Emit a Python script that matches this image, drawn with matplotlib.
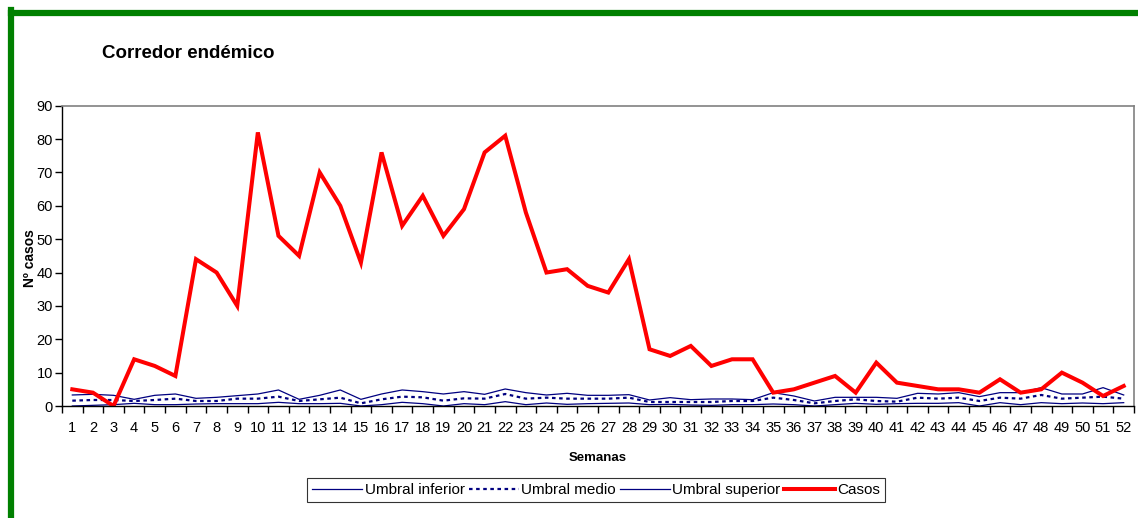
import numpy as np
import matplotlib.pyplot as plt
from matplotlib.lines import Line2D

plt.rcParams['font.family'] = ['Liberation Sans', 'DejaVu Sans']

semanas = list(range(1, 53))

casos = [5, 4, 0, 14, 12, 9, 44, 40, 30, 82,
         51, 45, 70, 60, 43, 76, 54, 63, 51, 59,
         76, 81, 58, 40, 41, 36, 34, 44, 17, 15,
         18, 12, 14, 14, 4, 5, 7, 9, 4, 13,
         7, 6, 5, 5, 4, 8, 4, 5, 10, 7,
         3, 6]

umbral_superior = [3.3, 3.5, 3.2, 2.0, 3.2, 3.6, 2.3, 2.6, 3.1, 3.6,
                   4.8, 2.0, 3.2, 4.8, 2.0, 3.6, 4.8, 4.3, 3.6, 4.3,
                   3.5, 5.1, 4.0, 3.3, 3.8, 3.2, 3.2, 3.4, 1.8, 2.5,
                   1.9, 2.1, 2.1, 1.9, 4.0, 3.0, 1.5, 2.6, 2.6, 2.6,
                   2.3, 3.8, 3.6, 4.0, 2.8, 4.0, 4.0, 5.5, 3.6, 3.6,
                   5.5, 3.3]

umbral_medio = [1.6, 1.8, 1.8, 1.5, 1.8, 2.2, 1.5, 1.5, 2.2, 2.2,
                2.8, 1.5, 2.0, 2.5, 0.8, 2.0, 2.8, 2.6, 1.6, 2.3,
                2.2, 3.6, 2.2, 2.5, 2.2, 2.2, 2.2, 2.5, 1.2, 1.2,
                1.2, 1.2, 1.5, 1.5, 2.5, 1.8, 0.8, 1.5, 2.0, 1.5,
                1.3, 2.5, 2.2, 2.5, 1.5, 2.5, 2.2, 3.3, 2.2, 2.5,
                2.8, 2.2]

umbral_inferior = [0.0, 0.2, 0.4, 0.8, 0.4, 0.4, 0.6, 0.7, 0.7, 0.7,
                   1.1, 0.7, 0.7, 0.8, 0.0, 0.4, 1.1, 0.7, 0.0, 0.7,
                   0.4, 1.3, 0.4, 0.9, 0.5, 0.7, 0.8, 0.9, 0.4, 0.5,
                   0.3, 0.2, 0.4, 0.4, 0.6, 0.4, 0.0, 0.4, 0.8, 0.5,
                   0.7, 0.8, 0.8, 1.0, 0.0, 1.0, 0.4, 1.0, 0.7, 0.9,
                   0.7, 1.0]

navy = '#000080'

fig = plt.figure(figsize=(11.38, 5.18), dpi=100)
ax = fig.add_axes([62 / 1138, 1 - 406 / 518, (1134 - 62) / 1138, (406 - 105.7) / 518])

ax.plot(semanas, umbral_inferior, color=navy, lw=0.9, label='Umbral inferior')
ax.plot(semanas, umbral_medio, color=navy, lw=1.6, dashes=(1.6, 1.6), label='Umbral medio')
ax.plot(semanas, umbral_superior, color=navy, lw=0.9, label='Umbral superior')
ax.plot(semanas, casos, color='#ff0000', lw=2.9, label='Casos', solid_joinstyle='miter')

ax.set_xlim(0.5, 52.5)
ax.set_ylim(0, 90)
ax.set_yticks(range(0, 91, 10))

# tick marks between categories, labels at the centre
ax.set_xticks(np.arange(0.5, 53, 1))
ax.set_xticklabels([])
ax.set_xticks(semanas, minor=True)
ax.set_xticklabels([str(s) for s in semanas], minor=True, fontsize=10.5)
ax.tick_params(axis='x', which='major', direction='out', length=5, width=1)
ax.tick_params(axis='x', which='minor', length=0, pad=11)
ax.tick_params(axis='y', direction='out', length=5, width=1, labelsize=10.5, pad=1.5)

for s in ['top', 'right']:
    ax.spines[s].set_color('#808080')
    ax.spines[s].set_linewidth(1.2)
for s in ['left', 'bottom']:
    ax.spines[s].set_color('black')
    ax.spines[s].set_linewidth(1)

ax.set_xlabel('Semanas', fontsize=9.5, fontweight='bold', labelpad=12)
fig.text(30 / 1138, 1 - 258 / 518, 'Nº casos', rotation=90, fontsize=10,
         fontweight='bold', ha='center', va='center')

fig.text(102 / 1138, 1 - 53 / 518, 'Corredor endémico', fontsize=13.5,
         fontweight='bold', ha='left', va='center')

leg = fig.legend(loc='center', bbox_to_anchor=(596 / 1138, 1 - 490 / 518), ncol=4,
                 fontsize=11, frameon=True, fancybox=False, edgecolor='black',
                 handlelength=3.3, handletextpad=0.15, columnspacing=0.25,
                 borderpad=0.35, borderaxespad=0)
leg.get_frame().set_linewidth(0.8)

# green frame
fig.add_artist(Line2D([11 / 1138, 11 / 1138], [-0.05, 1 - 10 / 518],
                      transform=fig.transFigure, color='#008000', lw=4.5,
                      solid_capstyle='projecting'))
fig.add_artist(Line2D([11 / 1138, 1.05], [1 - 13 / 518, 1 - 13 / 518],
                      transform=fig.transFigure, color='#008000', lw=4.5,
                      solid_capstyle='projecting'))

fig.savefig('out.png', dpi=100)
